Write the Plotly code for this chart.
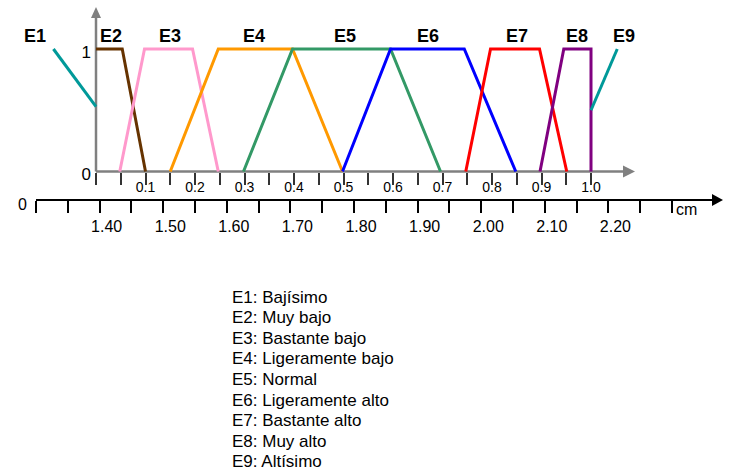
import plotly.graph_objects as go

W, H = 729, 474

# ---- data -------------------------------------------------------------
set_names = ["E1", "E2", "E3", "E4", "E5", "E6", "E7", "E8", "E9"]
set_desc = ["Bajísimo", "Muy bajo", "Bastante bajo", "Ligeramente bajo", "Normal",
            "Ligeramente alto", "Bastante alto", "Muy alto", "Altísimo"]
set_colors = ["#009999", "#663300", "#ff99cc", "#ff9900", "#339966",
              "#0000ff", "#ff0000", "#800080", "#009999"]

# membership function breakpoints (normalised scale, membership degree)
e1_x = [-0.086, 0.0];            e1_y = [1.0, 0.53]
e2_x = [0.0, 0.053, 0.10];       e2_y = [1, 1, 0]
e3_x = [0.048, 0.098, 0.195, 0.247]; e3_y = [0, 1, 1, 0]
e4_x = [0.15, 0.247, 0.397, 0.498];  e4_y = [0, 1, 1, 0]
e5_x = [0.298, 0.397, 0.595, 0.696]; e5_y = [0, 1, 1, 0]
e6_x = [0.498, 0.595, 0.744, 0.848]; e6_y = [0, 1, 1, 0]
e7_x = [0.747, 0.797, 0.896, 0.951]; e7_y = [0, 1, 1, 0]
e8_x = [0.897, 0.945, 1.0, 1.0];     e8_y = [0, 1, 1, 0]
e9_x = [1.0, 1.053];             e9_y = [0.5, 1.0]
series_x = [e1_x, e2_x, e3_x, e4_x, e5_x, e6_x, e7_x, e8_x, e9_x]
series_y = [e1_y, e2_y, e3_y, e4_y, e5_y, e6_y, e7_y, e8_y, e9_y]

# upper (normalised) axis ticks
norm_ticks = [round(i * 0.05, 2) for i in range(21)]
norm_labels = [f"{v:.1f}" if (i % 2 == 0 and i > 0) else "" for i, v in enumerate(norm_ticks)]

# lower (cm) axis ticks
cm_ticks = [round(1.30 + i * 0.05, 2) for i in range(21)]
cm_labels = [f"{v:.2f}" if (i % 2 == 0 and 2 <= i <= 18) else "" for i, v in enumerate(cm_ticks)]

# ---- layout geometry ----------------------------------------------------
X0_PX, U_PX = 96.0, 495.0       # pixel of u=0, pixels per unit
Y0_PX, V_PX = 171.5, 122.5      # pixel of y=0, pixels per unit
CM0_PX, CM_PX = 36.0, 636.0     # pixel of 1.30 cm, pixels per cm
LOW_Y_PX = 200.0

x_range = [-X0_PX / U_PX, (W - X0_PX) / U_PX]
y_range = [(Y0_PX - H) / V_PX, Y0_PX / V_PX]
cm_range = [1.30 - CM0_PX / CM_PX, 1.30 + (W - CM0_PX) / CM_PX]

def px2u(px):
    return (px - X0_PX) / U_PX

def py2v(py):
    return (Y0_PX - py) / V_PX

fig = go.Figure()

for name, xs, ys, col in zip(set_names, series_x, series_y, set_colors):
    fig.add_trace(go.Scatter(x=xs, y=ys, mode="lines", name=name,
                             line=dict(color=col, width=3), showlegend=False,
                             hoverinfo="skip"))

# invisible trace to activate the cm axis
fig.add_trace(go.Scatter(x=[cm_ticks[0], cm_ticks[-1]], y=[None, None], xaxis="x2",
                         mode="markers", marker=dict(opacity=0), showlegend=False,
                         hoverinfo="skip"))

GRAY = "#808080"
shapes = [
    # upper horizontal axis line + arrow
    dict(type="line", xref="x", yref="y", x0=0, x1=px2u(626), y0=0, y1=0,
         line=dict(color=GRAY, width=2.5), layer="below"),
    dict(type="path", xref="x", yref="y", xsizemode="pixel", ysizemode="pixel",
         xanchor=px2u(635), yanchor=0, path="M 0,0 L -12,6 L -12,-6 Z",
         fillcolor=GRAY, line=dict(color=GRAY, width=0)),
    # vertical axis line + arrow
    dict(type="line", xref="x", yref="y", x0=0, x1=0, y0=0, y1=py2v(15),
         line=dict(color=GRAY, width=2.5), layer="below"),
    dict(type="path", xref="x", yref="y", xsizemode="pixel", ysizemode="pixel",
         xanchor=0, yanchor=py2v(7), path="M 0,0 L -5,-11 L 5,-11 Z",
         fillcolor=GRAY, line=dict(color=GRAY, width=0)),
    # lower (cm) axis line + arrow
    dict(type="line", xref="x2", yref="paper", x0=1.30, x1=1.30 + (715 - CM0_PX) / CM_PX,
         y0=1 - LOW_Y_PX / H, y1=1 - LOW_Y_PX / H, line=dict(color="black", width=2)),
    dict(type="path", xref="x2", yref="paper", xsizemode="pixel", ysizemode="pixel",
         xanchor=1.30 + (723 - CM0_PX) / CM_PX, yanchor=1 - LOW_Y_PX / H,
         path="M 0,0 L -11,6 L -11,-6 Z", fillcolor="black", line=dict(color="black", width=0)),
]

# set name labels above the curves
name_px = [35, 111, 170, 254, 345, 428, 517, 577, 624]
annotations = []
for name, px in zip(set_names, name_px):
    annotations.append(dict(x=px2u(px), y=py2v(36), xref="x", yref="y", text=name,
                            showarrow=False, xanchor="center", yanchor="middle",
                            font=dict(size=18, color="black", family="Liberation Sans, Arial",
                                      weight="bold")))

# "0" at the left of cm axis and "cm" unit
annotations.append(dict(x=23 / W, y=1 - 204 / H, xref="paper", yref="paper", text="0",
                        showarrow=False, xanchor="center", yanchor="middle",
                        font=dict(size=16, color="black")))
annotations.append(dict(x=674 / W, y=1 - 210 / H, xref="paper", yref="paper", text="cm",
                        showarrow=False, xanchor="left", yanchor="middle",
                        font=dict(size=16, color="black")))

# legend text
for i, (name, desc) in enumerate(zip(set_names, set_desc)):
    annotations.append(dict(x=230 / W, y=1 - (297 + i * 20.6) / H, xref="paper", yref="paper",
                            text=f"{name}: {desc}", showarrow=False, xanchor="left",
                            yanchor="middle", font=dict(size=17, color="black")))

fig.update_layout(
    width=W, height=H,
    margin=dict(l=0, r=0, t=0, b=0),
    paper_bgcolor="white", plot_bgcolor="white",
    font=dict(family="Liberation Sans, Arial, sans-serif", color="black"),
    xaxis=dict(range=x_range, domain=[0, 1], anchor="free", position=1 - Y0_PX / H,
               tickvals=norm_ticks, ticktext=norm_labels, ticks="outside", ticklen=12,
               tickwidth=1.5, tickcolor="#333333", tickfont=dict(size=14),
               ticklabelstandoff=-9, showgrid=False, zeroline=False, showline=False,
               fixedrange=True),
    xaxis2=dict(range=cm_range, overlaying="x", anchor="free", position=1 - LOW_Y_PX / H,
                side="bottom", tickvals=cm_ticks, ticktext=cm_labels, ticks="outside",
                ticklen=12, tickwidth=2, tickcolor="black", tickfont=dict(size=16),
                ticklabelshift=7, showgrid=False, zeroline=False, showline=False,
                fixedrange=True),
    yaxis=dict(range=y_range, domain=[0, 1], anchor="free", position=X0_PX / W,
               tickvals=[0, 1], ticktext=["0", "1"], ticks="", tickfont=dict(size=17),
               ticklabelstandoff=5, ticklabelshift=3,
               showgrid=False, zeroline=False, showline=False, fixedrange=True),
    shapes=shapes,
    annotations=annotations,
    showlegend=False,
)

fig.write_html("out.html", config={"displayModeBar": False},
               post_script="document.body.style.margin='0';")
